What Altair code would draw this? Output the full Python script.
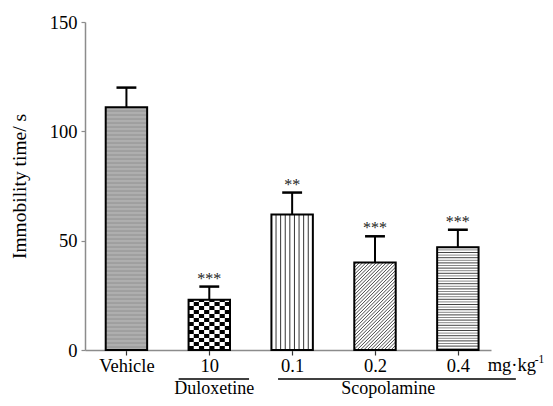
import json
import math
import altair as alt
import pandas as pd

# ---------------- data ----------------
categories = ["Vehicle", "10", "0.1", "0.2", "0.4"]
means = [111.0, 23.0, 62.0, 40.0, 47.0]
sems = [9.0, 6.0, 10.0, 12.0, 8.0]
stars = ["", "***", "**", "***", "***"]
patterns = ["fine", "checker", "vertical", "diagonal", "horizontal"]
y_ticks = [0, 50, 100, 150]
y_title = "Immobility time/ s"
group_names = ["Duloxetine", "Scopolamine"]
group_line_start = [1.13, 2.33]
group_line_end = [1.98, 5.2]
group_text_x = [1.56, 3.66]
unit_label = "mg·kg"
unit_sup = "-1"
unit_x = 4.86

# ---------------- layout ----------------
W, H = 406, 328
XMAX, YMAX = 4.9, 150
PX = W / XMAX
PY = H / YMAX
HALF = 0.25
FONT = "Liberation Serif"
FS = 18.5

xs = alt.Scale(domain=[0, XMAX], nice=False, zero=False)
ys = alt.Scale(domain=[0, YMAX], nice=False, zero=False)

label_expr = json.dumps(categories) + "[floor(datum.value)]"
X_AX = alt.Axis(values=[i + 0.5 for i in range(len(categories))],
                labelExpr=label_expr, grid=False,
                domainColor="#8c8c8c", domainWidth=1.5,
                tickColor="#333333", tickSize=5, tickWidth=1.2,
                labelFont=FONT, labelFontSize=FS, labelColor="black",
                labelPadding=1, labelAngle=0, labelFlush=False, labelOverlap=False)
Y_AX = alt.Axis(values=y_ticks, grid=False, domainColor="#8c8c8c",
                domainWidth=1.5, tickColor="#8c8c8c", tickSize=4,
                tickWidth=1.2, labelFont=FONT, labelFontSize=FS,
                labelColor="black", labelPadding=4, labelFlush=False,
                titleFont=FONT, titleFontSize=19.5,
                titleFontWeight="normal", titleColor="black",
                titlePadding=20)


def X(f):
    return alt.X(f, scale=xs, axis=X_AX, title=None)


def Y(f):
    return alt.Y(f, scale=ys, axis=Y_AX, title=y_title)


bars = pd.DataFrame({
    "i": range(len(categories)),
    "cat": categories,
    "mean": means,
    "sem": sems,
    "star": stars,
    "pattern": patterns,
})
bars["xc"] = bars["i"] + 0.5
bars["xl"] = bars["xc"] - HALF
bars["xr"] = bars["xc"] + HALF
bars["top"] = bars["mean"] + bars["sem"]
bars["capl"] = bars["xc"] - 0.12
bars["capr"] = bars["xc"] + 0.12
bars["base"] = 0.0
bars["fill"] = ["#c4c4c4" if p == "fine" else "white" for p in patterns]

# ---------------- hatch patterns (built from the bar values) ----------------
segs = []
cells = []
for _, b in bars.iterrows():
    xl, xr, m, p = b["xl"], b["xr"], b["mean"], b["pattern"]
    wpx, hpx = (xr - xl) * PX, m * PY
    if p == "fine":
        y = 1.0 / PY
        k = 0
        while y < m:
            segs.append((xl, xr, y, y, "#6a6a6a" if k % 2 else "#909090", 0.8))
            y += 2.0 / PY
            k += 1
    elif p == "horizontal":
        y = 1.3 / PY
        k = 0
        while y < m:
            segs.append((xl, xr, y, y, "#444444" if k % 2 else "#888888", 1.0))
            y += 2.6 / PY
            k += 1
    elif p == "vertical":
        n = 9
        for k in range(1, n):
            x = xl + k * (xr - xl) / n
            segs.append((x, x, 0.0, m, "#333333", 1.0))
    elif p == "diagonal":
        s = 3.4
        c = -hpx + s / 2
        while c < wpx:
            if c >= 0:
                x0p, y0p = c, 0.0
            else:
                x0p, y0p = 0.0, -c
            x1p = min(wpx, hpx + c)
            y1p = x1p - c
            segs.append((xl + x0p / PX, xl + x1p / PX, y0p / PY, y1p / PY, "#333333", 0.9))
            c += s
    elif p == "checker":
        ncol = 8
        cw = (xr - xl) / ncol
        ch = 4.0 / PY
        nrow = int(math.ceil(m / ch))
        for r in range(nrow):
            for cc in range(ncol):
                if (r + cc) % 2 == 0:
                    cells.append((xl + cc * cw, xl + (cc + 1) * cw, r * ch, min((r + 1) * ch, m)))

seg_df = pd.DataFrame(segs, columns=["x", "x2", "y", "y2", "color", "w"])
cell_df = pd.DataFrame(cells, columns=["x", "x2", "y", "y2"])

# ---------------- layers ----------------
base_fill = alt.Chart(bars).mark_rect().encode(
    x=X("xl:Q"), x2="xr:Q", y=Y("base:Q"), y2="mean:Q",
    color=alt.Color("fill:N", scale=None),
)

hatch_lines = alt.Chart(seg_df).mark_rule().encode(
    x=X("x:Q"), x2="x2:Q", y=Y("y:Q"), y2="y2:Q",
    color=alt.Color("color:N", scale=None),
    strokeWidth=alt.StrokeWidth("w:Q", scale=None),
)

checker = alt.Chart(cell_df).mark_rect(color="black").encode(
    x=X("x:Q"), x2="x2:Q", y=Y("y:Q"), y2="y2:Q",
)

outline = alt.Chart(bars).mark_rect(filled=False, stroke="black", strokeWidth=2).encode(
    x=X("xl:Q"), x2="xr:Q", y=Y("base:Q"), y2="mean:Q",
)

err = alt.Chart(bars).mark_rule(color="black", strokeWidth=2).encode(
    x=X("xc:Q"), y=Y("mean:Q"), y2="top:Q",
)

cap = alt.Chart(bars).mark_rule(color="black", strokeWidth=2.5).encode(
    x=X("capl:Q"), x2="capr:Q", y=Y("top:Q"),
)

star_text = alt.Chart(bars).mark_text(font=FONT, fontSize=16, color="#222222",
                                      baseline="alphabetic", dy=-3).encode(
    x=X("xc:Q"), y=Y("top:Q"), text="star:N",
)

groups = pd.DataFrame({
    "name": group_names,
    "x1": group_line_start,
    "x2": group_line_end,
    "xt": group_text_x,
    "yl": [-13.3] * len(group_names),
    "yt": [-20.1] * len(group_names),
})

group_lines = alt.Chart(groups).mark_rule(color="black", strokeWidth=1.5).encode(
    x=X("x1:Q"), x2="x2:Q", y=Y("yl:Q"),
)

group_text = alt.Chart(groups).mark_text(font=FONT, fontSize=18, color="black",
                                         baseline="alphabetic").encode(
    x=X("xt:Q"), y=Y("yt:Q"), text="name:N",
)

unit_df = pd.DataFrame({"x": [unit_x], "y": [-9.6], "t": [unit_label], "s": [unit_sup]})
unit_main = alt.Chart(unit_df).mark_text(font=FONT, fontSize=FS, color="black",
                                         align="left", baseline="alphabetic").encode(
    x=X("x:Q"), y=Y("y:Q"), text="t:N",
)
unit_super = alt.Chart(unit_df).mark_text(font=FONT, fontSize=11.5, color="black",
                                          align="left", baseline="alphabetic",
                                          dx=47, dy=-8).encode(
    x=X("x:Q"), y=Y("y:Q"), text="s:N",
)

chart = alt.layer(
    base_fill, hatch_lines, checker, outline, err, cap, star_text,
    group_lines, group_text, unit_main, unit_super,
).properties(
    width=W, height=H,
    autosize=alt.AutoSizeParams(type="none"),
    padding={"left": 77, "top": 14, "right": 54, "bottom": 48},
    background="white",
).configure_view(stroke=None)

chart.save("out.html", embed_options={"renderer": "svg", "actions": False})
